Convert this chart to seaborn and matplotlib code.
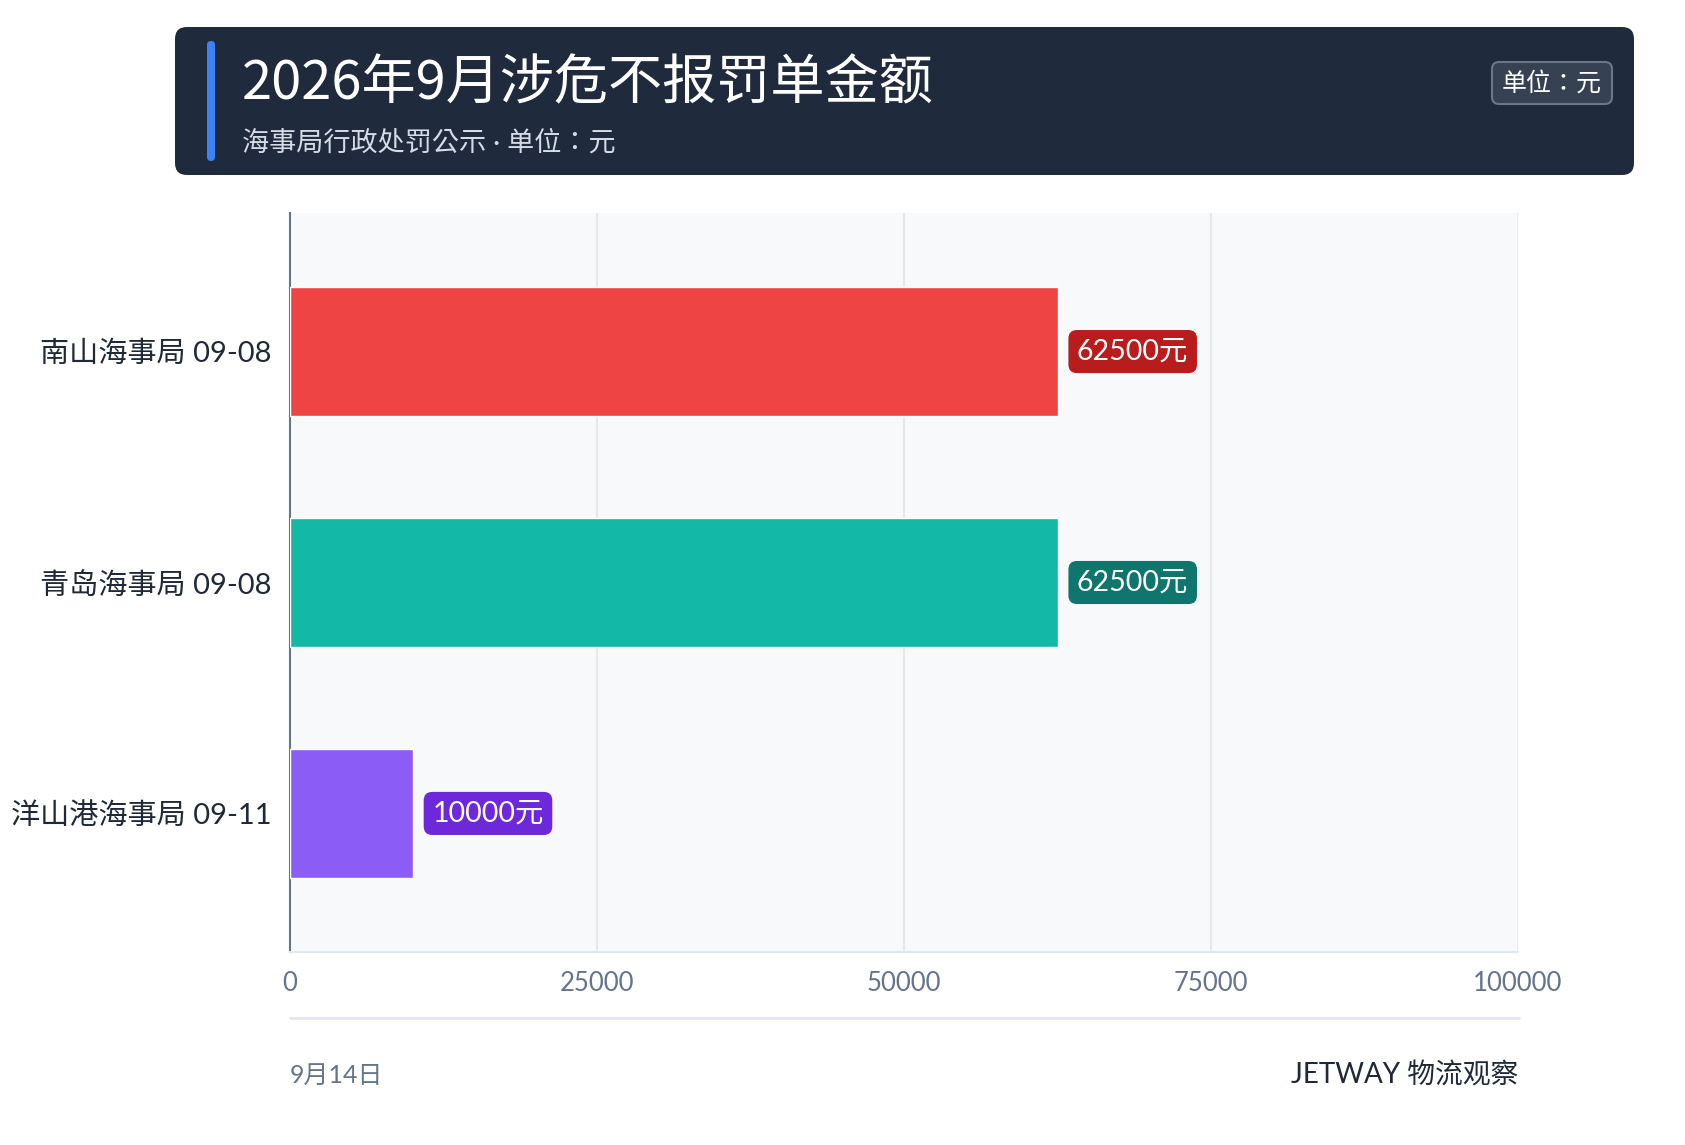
import numpy as np
import pandas as pd
import matplotlib
matplotlib.use("Agg")
import matplotlib.pyplot as plt
import seaborn as sns
from matplotlib.patches import FancyBboxPatch

# Data
categories = ["南山海事局 09-08", "青岛海事局 09-08", "洋山港海事局 09-11"]
amounts = [62500, 62500, 10000]
bar_colors = ["#ef4444", "#14b8a6", "#8b5cf6"]
label_colors = ["#b91c1c", "#0f766e", "#6d28d9"]
x_ticks = [0, 25000, 50000, 75000, 100000]

title = "2026年9月涉危不报罚单金额"
subtitle = "海事局行政处罚公示 · 单位：元"
unit_badge = "单位：元"
footer_left = "9月14日"
footer_right = "JETWAY 物流观察"

sns.set_theme(style="white")
plt.rcParams["font.family"] = ["Lato", "Noto Sans CJK SC", "DejaVu Sans"]
mixed_tc = ["Lato", "Noto Sans CJK TC", "DejaVu Sans"]

W, H = 1685, 1145
fig = plt.figure(figsize=(W / 100, H / 100), dpi=100)
fig.patch.set_facecolor("white")

# Overlay in pixel coordinates for header / footer
over = fig.add_axes([0, 0, 1, 1], zorder=0)
over.set_xlim(0, W)
over.set_ylim(H, 0)
over.axis("off")

over.add_patch(FancyBboxPatch((175, 27), 1459, 148,
                              boxstyle="round,pad=0,rounding_size=12",
                              facecolor="#1f2a3c", edgecolor="none"))
over.add_patch(FancyBboxPatch((207, 41), 8, 120,
                              boxstyle="round,pad=0,rounding_size=4",
                              facecolor="#3b82f6", edgecolor="none"))
over.text(242, 84, title, fontsize=39, color="white", va="center", ha="left",
          family=["Noto Sans CJK SC", "DejaVu Sans"], fontweight="light")
over.text(242, 143, subtitle, fontsize=19.5, color="#d5dce6", va="center", ha="left",
          family=mixed_tc)
over.add_patch(FancyBboxPatch((1492, 62), 120, 42,
                              boxstyle="round,pad=0,rounding_size=7",
                              facecolor="#364152", edgecolor="#6b7687", linewidth=1.5))
over.text(1552, 83, unit_badge, fontsize=18, color="white", va="center", ha="center",
          family=mixed_tc)

over.plot([290, 1519], [1018, 1018], color="#e2e8f0", linewidth=2)
over.text(290, 1075, footer_left, fontsize=18, color="#64748b", va="center", ha="left")
over.text(1518, 1075, footer_right, fontsize=20, color="#1f2937", va="center", ha="right")

# Main chart
df = pd.DataFrame({"category": categories, "amount": amounts})
ax = fig.add_axes([290 / W, 1 - 952 / H, 1228 / W, 739 / H], zorder=1)
ax.set_facecolor("#f8f9fb")
sns.barplot(data=df, y="category", x="amount", hue="category",
            palette=bar_colors, width=0.56, saturation=1, legend=False,
            ax=ax, zorder=3)

ax.set_xlim(0, 100000)
ax.set_ylim(2.6, -0.6)
ax.set_xticks(x_ticks)
ax.set_xticklabels([str(t) for t in x_ticks])
ax.set_xlabel("")
ax.set_ylabel("")
ax.grid(axis="x", color="#e5e7eb", linewidth=1.3, zorder=0)
ax.grid(axis="y", visible=False)
ax.tick_params(axis="x", length=0, pad=14, labelsize=18.5, labelcolor="#64748b")
ax.tick_params(axis="y", length=0, pad=13, labelsize=21, labelcolor="#1f2937")
for side in ["top", "right"]:
    ax.spines[side].set_visible(False)
ax.spines["left"].set_color("#64748b")
ax.spines["left"].set_linewidth(1.5)
ax.spines["bottom"].set_color("#e2e8f0")
ax.spines["bottom"].set_linewidth(1.5)

for i, (v, c) in enumerate(zip(amounts, label_colors)):
    ax.annotate(f"{v}元", xy=(v, i), xytext=(14, 0), textcoords="offset points",
                va="center", ha="left", fontsize=20.5, color="white", zorder=5,
                bbox=dict(boxstyle="round,pad=0.3,rounding_size=0.3",
                          facecolor=c, edgecolor="none"))

fig.savefig("out.png", dpi=100, facecolor="white")
